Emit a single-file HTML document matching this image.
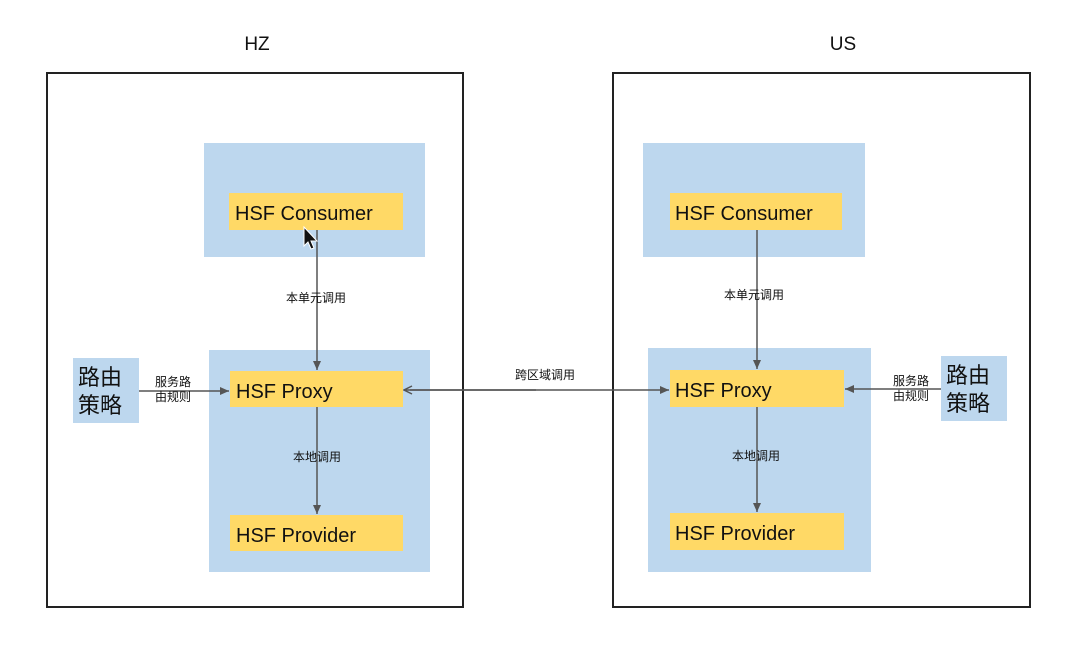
<!DOCTYPE html>
<html><head><meta charset="utf-8"><style>
body{margin:0;background:#fff;}
svg text{font-family:"Liberation Sans","Noto Sans CJK SC",sans-serif;fill:#111;}
</style></head><body>
<svg width="1080" height="642" xmlns="http://www.w3.org/2000/svg">
<defs><marker id="a" markerWidth="10" markerHeight="10" refX="9" refY="5" orient="auto" markerUnits="userSpaceOnUse"><path d="M1,1 L9,5 L1,9" fill="none" stroke="#555" stroke-width="1.5"/></marker>
<marker id="b" markerWidth="10" markerHeight="10" refX="9" refY="5" orient="auto" markerUnits="userSpaceOnUse"><path d="M0,1 L9,5 L0,9 Z" fill="#555"/></marker></defs>
<rect width="1080" height="642" fill="#fff"/>
<text x="257" y="50" font-size="19" text-anchor="middle">HZ</text>
<text x="843" y="50" font-size="19" text-anchor="middle">US</text>
<rect x="47" y="73" width="416" height="534" fill="none" stroke="#222" stroke-width="2"/>
<rect x="613" y="73" width="417" height="534" fill="none" stroke="#222" stroke-width="2"/>
<!-- left -->
<rect x="204" y="143" width="221" height="114" fill="#bdd7ee"/>
<rect x="209" y="350" width="221" height="222" fill="#bdd7ee"/>
<rect x="229" y="193" width="174" height="37" fill="#ffd966"/>
<rect x="230" y="371" width="173" height="36" fill="#ffd966"/>
<rect x="230" y="515" width="173" height="36" fill="#ffd966"/>
<text x="235" y="220" font-size="20">HSF Consumer</text>
<text x="236" y="398" font-size="20">HSF Proxy</text>
<text x="236" y="542" font-size="20">HSF Provider</text>
<rect x="73" y="358" width="66" height="65" fill="#bdd7ee"/>
<text x="78" y="385" font-size="22">路由</text>
<text x="78" y="413" font-size="22">策略</text>
<!-- right -->
<rect x="643" y="143" width="222" height="114" fill="#bdd7ee"/>
<rect x="648" y="348" width="223" height="224" fill="#bdd7ee"/>
<rect x="670" y="193" width="172" height="37" fill="#ffd966"/>
<rect x="670" y="370" width="174" height="37" fill="#ffd966"/>
<rect x="670" y="513" width="174" height="37" fill="#ffd966"/>
<text x="675" y="220" font-size="20">HSF Consumer</text>
<text x="675" y="397" font-size="20">HSF Proxy</text>
<text x="675" y="540" font-size="20">HSF Provider</text>
<rect x="941" y="356" width="66" height="65" fill="#bdd7ee"/>
<text x="946" y="383" font-size="22">路由</text>
<text x="946" y="411" font-size="22">策略</text>
<!-- arrows -->
<g stroke="#555" stroke-width="1.5">
<line x1="317" y1="230" x2="317" y2="370" marker-end="url(#b)"/>
<line x1="317" y1="407" x2="317" y2="514" marker-end="url(#b)"/>
<line x1="757" y1="230" x2="757" y2="369" marker-end="url(#b)"/>
<line x1="757" y1="407" x2="757" y2="512" marker-end="url(#b)"/>
<line x1="139" y1="391" x2="229" y2="391" marker-end="url(#b)"/>
<line x1="941" y1="389" x2="845" y2="389" marker-end="url(#b)"/>
<line x1="410" y1="390" x2="669" y2="390" marker-end="url(#b)"/>
<line x1="536" y1="390" x2="404" y2="390" marker-end="url(#a)"/>
</g>
<g font-size="12">
<text x="316" y="302" text-anchor="middle">本单元调用</text>
<text x="317" y="461" text-anchor="middle">本地调用</text>
<text x="754" y="299" text-anchor="middle">本单元调用</text>
<text x="756" y="460" text-anchor="middle">本地调用</text>
<text x="173" y="386" text-anchor="middle">服务路</text>
<text x="173" y="401" text-anchor="middle">由规则</text>
<text x="911" y="385" text-anchor="middle">服务路</text>
<text x="911" y="400" text-anchor="middle">由规则</text>
<text x="545" y="379" text-anchor="middle">跨区域调用</text>
</g>
<!-- cursor -->
<path d="M304,227 L304,246 L308,242 L311,249 L314,248 L311,241 L317,241 Z" fill="#111" stroke="#fff" stroke-width="1"/>
</svg>
</body></html>
